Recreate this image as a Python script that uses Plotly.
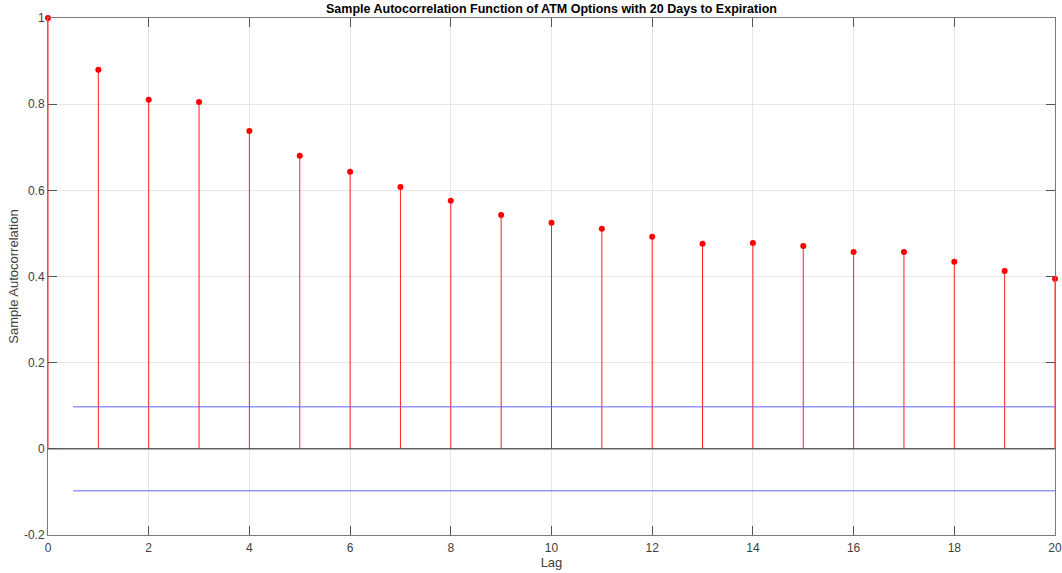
import plotly.graph_objects as go

lags = list(range(21))
acf = [1.0, 0.880, 0.810, 0.805, 0.738, 0.680, 0.643, 0.608, 0.576, 0.543, 0.525,
       0.511, 0.492, 0.476, 0.478, 0.471, 0.457, 0.457, 0.434, 0.413, 0.395]
bound = 0.0975
bound_x = [0.5, 20]
x_ticks = list(range(0, 21, 2))
y_ticks = [-0.2, 0, 0.2, 0.4, 0.6, 0.8, 1]

stem_x, stem_y = [], []
for l, v in zip(lags, acf):
    stem_x += [l, l, None]
    stem_y += [0, v, None]

fig = go.Figure()
fig.add_trace(go.Scatter(x=stem_x, y=stem_y, mode="lines", cliponaxis=False,
                         line=dict(color="#ff2020", width=1), hoverinfo="skip"))
fig.add_trace(go.Scatter(x=[0, 20], y=[0, 0], mode="lines",
                         line=dict(color="#606060", width=1.5)))
fig.add_trace(go.Scatter(x=bound_x, y=[bound, bound], mode="lines",
                         line=dict(color="#6060ff", width=1)))
fig.add_trace(go.Scatter(x=bound_x, y=[-bound, -bound], mode="lines",
                         line=dict(color="#6060ff", width=1)))
fig.add_trace(go.Scatter(x=lags, y=acf, mode="markers", cliponaxis=False,
                         marker=dict(color="red", size=6)))

font_fam = "Liberation Sans, Arial"
axis_common = dict(showgrid=True, gridcolor="#e6e6e6", gridwidth=1,
                   showline=True, linecolor="#7a7a7a", linewidth=1, mirror="ticks",
                   ticks="inside", ticklen=9, tickcolor="#555555", zeroline=False,
                   automargin=False,
                   tickfont=dict(family=font_fam, size=12, color="#404040"))

fig.update_layout(
    width=1062, height=573,
    margin=dict(l=48, r=7, t=18, b=38),
    paper_bgcolor="white", plot_bgcolor="white",
    showlegend=False,
    title=dict(text="<b>Sample Autocorrelation Function of ATM Options with 20 Days to Expiration</b>",
               x=0.5, xref="paper", xanchor="center", y=1 - 9 / 573, yanchor="middle",
               font=dict(family=font_fam, size=12.5, color="black")),
    xaxis=dict(range=[0, 20], tickvals=x_ticks, ticklabelstandoff=2,
               title=dict(text="Lag", standoff=0,
                          font=dict(family=font_fam, size=13, color="#404040")),
               **axis_common),
    yaxis=dict(range=[-0.2, 1], tickvals=y_ticks,
               ticktext=["-0.2", "0", "0.2", "0.4", "0.6", "0.8", "1"],
               title=dict(text="Sample Autocorrelation", standoff=2,
                          font=dict(family=font_fam, size=13, color="#404040")),
               **axis_common),
)

fig.write_html("out.html", config={"displayModeBar": False},
               post_script="document.body.style.margin='0';")
